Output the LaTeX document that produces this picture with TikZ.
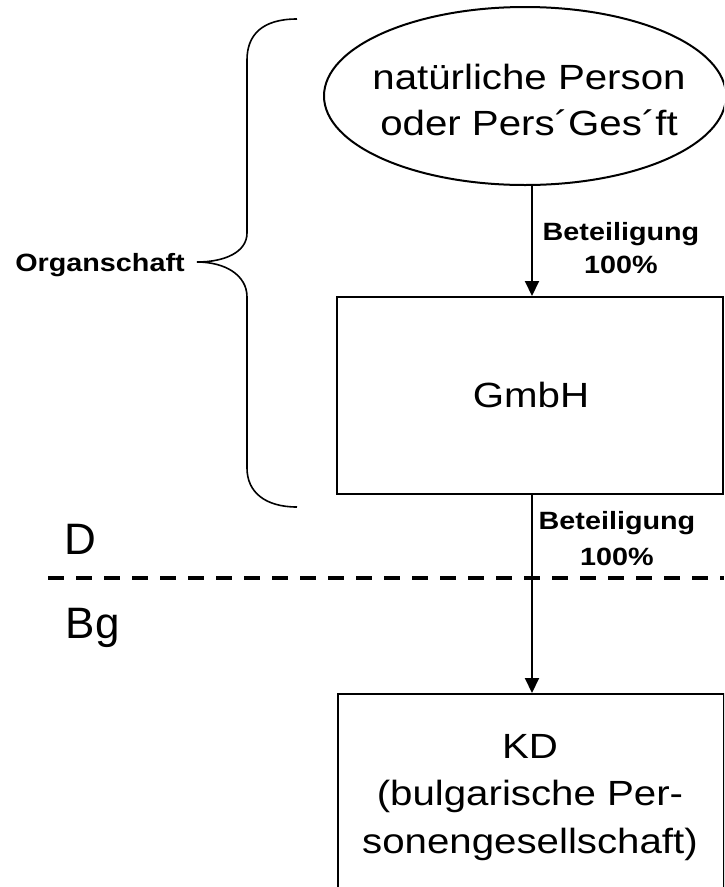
\documentclass[tikz,border=0pt]{standalone}
\usepackage{fontspec}
\setmainfont{Liberation Sans}
\newfontfamily\mainf[FakeStretch=1.15]{Liberation Sans}
\newfontfamily\lblf[FakeStretch=1.15]{Liberation Sans}
\usetikzlibrary{shapes.geometric,arrows.meta}
\begin{document}
\begin{tikzpicture}[x=1pt,y=-1pt,
  boxnode/.style={draw, line width=2pt, rectangle, inner sep=0pt, anchor=north west},
  conn/.style={line width=2pt, -{Triangle[width=14pt,length=15pt]}},
  maintext/.style={anchor=base, inner sep=0pt, font=\mainf\fontsize{35}{46}\selectfont},
  lbltext/.style={anchor=base, inner sep=0pt, font=\lblf\bfseries\fontsize{25}{34}\selectfont},
  regtext/.style={anchor=base west, inner sep=0pt, font=\fontsize{44}{50}\selectfont},
  bracestyle/.style={line width=1.6pt},
  border/.style={line width=3.5pt, dash pattern=on 16pt off 12pt}]
\useasboundingbox (0,0) rectangle (724,887);
\clip (0,0) rectangle (724,887);

% shapes
\node[draw, ellipse, line width=2pt, minimum width=402pt, minimum height=178pt, inner sep=0pt] (person) at (525,96) {};
\node[boxnode, minimum width=386pt, minimum height=197pt] (gmbh) at (336,296) {};
\node[boxnode, minimum width=386pt, minimum height=240pt] (kd) at (337,693) {};

% texts
\node[maintext] (persontext) at (529,89) {\begin{tabular}[t]{@{}c@{}}natürliche Person\\oder Pers´Ges´ft\end{tabular}};
\node[maintext] (gmbhtext) at (531,407) {GmbH};
\node[maintext, font=\mainf\fontsize{35}{47.5}\selectfont] (kdtext) at (530,758) {\begin{tabular}[t]{@{}c@{}}KD\\(bulgarische Per-\\sonengesellschaft)\end{tabular}};

\node[lbltext, font=\lblf\bfseries\fontsize{25}{33}\selectfont] (lab1) at (621,240) {\begin{tabular}[t]{@{}c@{}}Beteiligung\\100\%\end{tabular}};
\node[lbltext, font=\lblf\bfseries\fontsize{25}{36}\selectfont] (lab2) at (617,529) {\begin{tabular}[t]{@{}c@{}}Beteiligung\\100\%\end{tabular}};
\node[lbltext] (org) at (100,271) {Organschaft};

\node[regtext] (de) at (64.5,554) {D};
\node[regtext] (bg) at (65.5,638) {Bg};

% connectors
\draw[conn] ([xshift=7pt]person.south) -- ([xshift=7pt]person.south |- gmbh.north);
\draw[conn] ([xshift=2pt]gmbh.south) -- ([xshift=2pt]gmbh.south |- kd.north);

% brace
\coordinate (bracetip) at (197,262);
\draw[bracestyle] (297,19) .. controls (262,19) and (247,35) .. (247,60) -- (247,233)
  .. controls (247,252) and (225,262) .. (bracetip)
  .. controls (225,262) and (247,275) .. (247,297) -- (247,468)
  .. controls (247,492) and (265,507) .. (297,507);

% border line
\coordinate (borderL) at (48,578);
\coordinate (borderR) at (724,578);
\draw[border] (borderL) -- (borderR);
\end{tikzpicture}
\end{document}
